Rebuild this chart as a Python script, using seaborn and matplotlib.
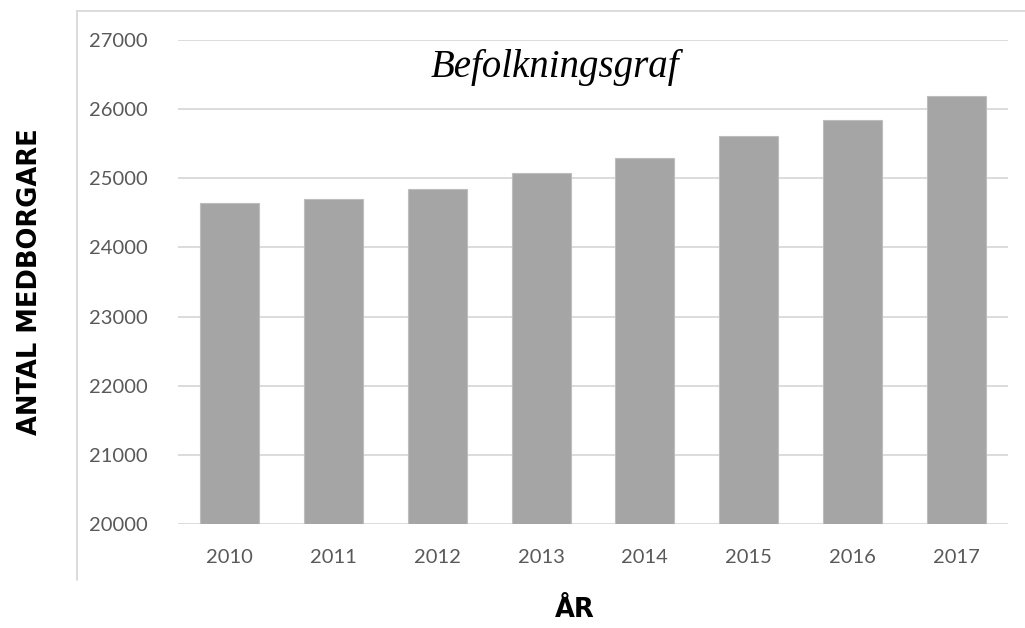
import matplotlib
matplotlib.use("Agg")
import matplotlib.pyplot as plt
from matplotlib.lines import Line2D
import seaborn as sns
import pandas as pd

# Population per year
years = ["2010", "2011", "2012", "2013", "2014", "2015", "2016", "2017"]
population = [24648, 24700, 24850, 25082, 25300, 25606, 25843, 26188]
y_ticks = [20000, 21000, 22000, 23000, 24000, 25000, 26000, 27000]

df = pd.DataFrame({"year": years, "population": population})

sns.set_theme(style="white")
plt.rcParams["font.family"] = ["Lato", "DejaVu Sans"]

fig = plt.figure(figsize=(10.25, 6.28), dpi=100)
ax = fig.add_axes([0.1737, 0.1656, 0.8097, 0.7707])

sns.barplot(data=df, x="year", y="population", order=years, color="#A5A5A5",
            width=0.57, edgecolor="#BDBDBD", linewidth=0.8, saturation=1, ax=ax,
            zorder=3)

ax.set_ylim(20000, 27000)
ax.set_yticks(y_ticks)
ax.set_yticklabels([str(t) for t in y_ticks])
ax.set_xlim(-0.5, len(years) - 0.5)
ax.grid(axis="y", color="#D9D9D9", linewidth=1.3, zorder=0)
ax.set_axisbelow(True)
for side in ["top", "right", "left", "bottom"]:
    ax.spines[side].set_visible(False)
ax.tick_params(axis="both", length=0, labelsize=14.5, labelcolor="#595959")
ax.tick_params(axis="y", pad=22)
ax.tick_params(axis="x", pad=18)
ax.set_xlabel("")
ax.set_ylabel("")

# Axis titles
fig.text(0.029, 0.551, "ANTAL MEDBORGARE", rotation=90, ha="center", va="center",
         fontsize=18.5, fontweight="bold", color="black", family=["DejaVu Sans"])
fig.text(0.561, 0.029, "ÅR", ha="center", va="center",
         fontsize=18.5, fontweight="bold", color="black", family=["DejaVu Sans"])

# Chart title
fig.text(0.541, 0.893, "Befolkningsgraf", ha="center", va="center",
         fontsize=28, fontstyle="italic", color="black",
         family=["Liberation Serif", "DejaVu Serif"])

# Chart frame (partially visible)
fig.add_artist(Line2D([0.0751, 1.0], [1 - 11 / 628, 1 - 11 / 628],
                      color="#D9D9D9", linewidth=1.3, transform=fig.transFigure))
fig.add_artist(Line2D([0.0751, 0.0751], [1 - 11 / 628, 1 - 580 / 628],
                      color="#D9D9D9", linewidth=1.3, transform=fig.transFigure))

fig.savefig("out.png", dpi=100, facecolor="white")
